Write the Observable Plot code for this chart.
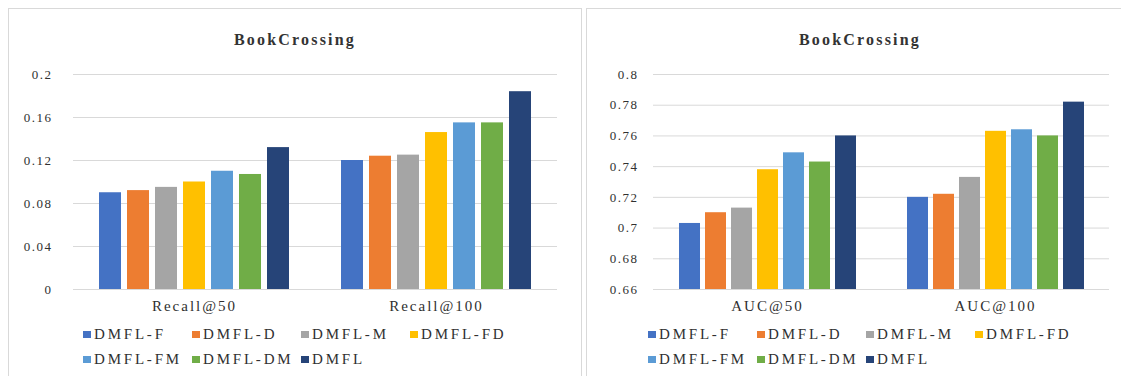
<!DOCTYPE html>
<html>
<head>
<meta charset="utf-8">
<script src="https://cdn.jsdelivr.net/npm/d3@7"></script>
<script src="https://cdn.jsdelivr.net/npm/@observablehq/plot@0.6"></script>
<style>
  body {
    margin: 0;
    background: #fff;
    width: 1121px;
    height: 376px;
    overflow: hidden;
    position: relative;
    font-family: "Liberation Serif", "Times New Roman", serif;
  }
  .panel {
    position: absolute;
    border: 1px solid #d9d9d9;
    box-sizing: border-box;
  }
  .title {
    position: absolute;
    font-size: 16px;
    font-weight: bold;
    line-height: 16px;
    color: #333333;
    letter-spacing: 2.2px;
    white-space: nowrap;
    transform: translateX(-50%);
  }
  .legend {
    position: absolute;
    display: grid;
    grid-template-columns: repeat(4, 109px);
    grid-auto-rows: 25px;
    font-size: 15px;
    line-height: 25px;
    color: #303030;
    letter-spacing: 2.8px;
  }
  .legend .item { display: flex; align-items: center; white-space: nowrap; }
  .legend .sw { width: 8px; height: 7px; margin-right: 3px; flex: none; }
  .chart { position: absolute; }
  .chart g[aria-label="y-axis tick label"] text { letter-spacing: 1.5px; }
  .chart g[aria-label="fx-axis tick label"] text { letter-spacing: 2px; }
</style>
</head>
<body>
<script>
// Model variants and their Office-style colours
const series = ["DMFL-F", "DMFL-D", "DMFL-M", "DMFL-FD", "DMFL-FM", "DMFL-DM", "DMFL"];
const colors = ["#4472C4", "#ED7D31", "#A5A5A5", "#FFC000", "#5B9BD5", "#70AD47", "#264478"];
const chartTitle = "BookCrossing";

// Recall panel
const recallMetrics = ["Recall@50", "Recall@100"];
const recallAt50  = [0.090, 0.092, 0.095, 0.100, 0.110, 0.107, 0.132];
const recallAt100 = [0.120, 0.124, 0.125, 0.146, 0.155, 0.155, 0.184];
const recallTicks = [0, 0.04, 0.08, 0.12, 0.16, 0.2];

// AUC panel
const aucMetrics = ["AUC@50", "AUC@100"];
const aucAt50  = [0.703, 0.710, 0.713, 0.738, 0.749, 0.743, 0.760];
const aucAt100 = [0.720, 0.722, 0.733, 0.763, 0.764, 0.760, 0.782];
const aucTicks = [0.66, 0.68, 0.7, 0.72, 0.74, 0.76, 0.78, 0.8];

const textColor = "#303030";
const fmt = d => String(+d.toFixed(2));

function addEl(tag, cls, style) {
  const el = document.createElement(tag);
  if (cls) el.className = cls;
  Object.assign(el.style, style || {});
  document.body.appendChild(el);
  return el;
}

function drawPanel(opts) {
  const {panelLeft, panelWidth, svgWidth, marginLeft, marginRight, tickPadding,
         metrics, values, ticks, titleCenter, legendLeft} = opts;

  // frame around the panel
  addEl("div", "panel", {left: panelLeft + "px", top: "8px", width: panelWidth + "px", height: "420px"});

  // title
  const t = addEl("div", "title", {left: titleCenter + "px", top: "32px"});
  t.textContent = chartTitle;

  // long-format table: one row per metric × variant
  const rows = metrics.flatMap((m, i) => series.map((s, j) => ({metric: m, series: s, value: values[i][j]})));
  const base = ticks[0];

  const chart = Plot.plot({
    width: svgWidth,
    height: 263,
    marginTop: 18,
    marginBottom: 30,
    marginLeft,
    marginRight,
    style: {fontFamily: '"Liberation Serif", "Times New Roman", serif', fontSize: "13px", color: textColor, background: "transparent", overflow: "visible"},
    fx: {domain: metrics, padding: 0, axis: null},
    x: {domain: series, paddingInner: 0.21, paddingOuter: 0.87, axis: null},
    y: {domain: [ticks[0], ticks[ticks.length - 1]], axis: null},
    color: {domain: series, range: colors},
    marks: [
      Plot.gridY(ticks, {stroke: "#d9d9d9", strokeOpacity: 1, strokeWidth: 1}),
      Plot.barY(rows, {fx: "metric", x: "series", y1: base, y2: "value", fill: "series"}),
      Plot.axisY(ticks, {tickSize: 0, tickPadding, tickFormat: fmt, fontSize: 13, fill: textColor, label: null}),
      Plot.axisFx({anchor: "bottom", tickSize: 0, tickPadding: 11, fontSize: 15, fill: textColor, label: null})
    ]
  });
  chart.classList.add("chart");
  chart.style.left = panelLeft + "px";
  chart.style.top = "56px";
  document.body.appendChild(chart);

  // legend: 4 columns, wraps onto a second row
  const legend = addEl("div", "legend", {left: legendLeft + "px", top: "322px"});
  series.forEach((s, i) => {
    const item = document.createElement("div");
    item.className = "item";
    const sw = document.createElement("span");
    sw.className = "sw";
    sw.style.background = colors[i];
    const label = document.createElement("span");
    label.textContent = s;
    item.append(sw, label);
    legend.appendChild(item);
  });
}

drawPanel({
  panelLeft: 8, panelWidth: 574, svgWidth: 573,
  marginLeft: 65, marginRight: 24, tickPadding: 21,
  metrics: recallMetrics, values: [recallAt50, recallAt100], ticks: recallTicks,
  titleCenter: 295, legendLeft: 83
});

drawPanel({
  panelLeft: 586, panelWidth: 560, svgWidth: 535,
  marginLeft: 66, marginRight: 12, tickPadding: 15,
  metrics: aucMetrics, values: [aucAt50, aucAt100], ticks: aucTicks,
  titleCenter: 860, legendLeft: 648
});
</script>
</body>
</html>
